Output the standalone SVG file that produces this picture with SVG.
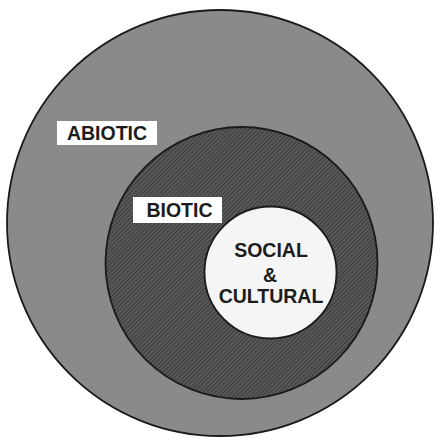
<svg xmlns="http://www.w3.org/2000/svg" width="435" height="439" viewBox="0 0 435 439">
  <defs>
    <pattern id="hatch" width="3" height="3" patternUnits="userSpaceOnUse" patternTransform="rotate(-45)">
      <rect width="3" height="3" fill="#5c5c5c"/>
      <rect width="3" height="1.2" fill="#3c3c3c"/>
    </pattern>
    <style>
      .ring { stroke: #1a1a1a; stroke-width: 1.8; }
      .lbl { fill: #ffffff; }
      .txt { font-family: "Liberation Sans", Arial, sans-serif; font-weight: bold; font-size: 19.5px; fill: #1c1c1c; text-anchor: middle; }
    </style>
  </defs>
  <rect width="435" height="439" fill="#ffffff"/>
  <g id="abiotic">
    <circle class="ring" cx="220" cy="223" r="213" fill="#8a8a8a"/>
    <rect class="lbl" x="57" y="121" width="100" height="24"/>
    <text class="txt" x="107" y="140">ABIOTIC</text>
  </g>
  <g id="biotic">
    <circle class="ring" cx="241.5" cy="263" r="136" fill="url(#hatch)"/>
    <rect class="lbl" x="133" y="197" width="89" height="26"/>
    <text class="txt" x="179.5" y="217">BIOTIC</text>
  </g>
  <g id="social-cultural">
    <circle class="ring" cx="270.5" cy="272.5" r="66" fill="#f5f5f5"/>
    <text class="txt" x="271" y="257">SOCIAL</text>
    <text class="txt" x="270" y="282">&amp;</text>
    <text class="txt" x="271" y="303">CULTURAL</text>
  </g>
  <g id="connectors"/>
</svg>
